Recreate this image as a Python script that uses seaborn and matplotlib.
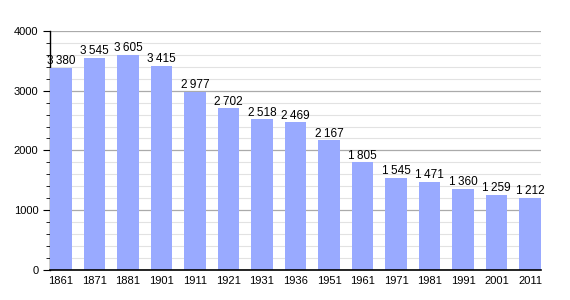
import matplotlib
matplotlib.use("Agg")
import matplotlib.pyplot as plt
import seaborn as sns
import pandas as pd
from matplotlib.ticker import MultipleLocator

# data
years = ["1861", "1871", "1881", "1901", "1911", "1921", "1931", "1936",
         "1951", "1961", "1971", "1981", "1991", "2001", "2011"]
population = [3380, 3545, 3605, 3415, 2977, 2702, 2518, 2469,
              2167, 1805, 1545, 1471, 1360, 1259, 1212]

df = pd.DataFrame({"year": years, "pop": population})

sns.set_style("white")
plt.rcParams["font.family"] = ["Liberation Sans", "DejaVu Sans"]
plt.rcParams["text.color"] = "black"
plt.rcParams["xtick.color"] = "black"
plt.rcParams["ytick.color"] = "black"

fig = plt.figure(figsize=(5.7, 3.0), dpi=100)
ax = fig.add_axes([0.088, 0.1, 0.861, 0.797])

sns.barplot(data=df, x="year", y="pop", color="#99aaff", width=0.64,
            saturation=1, linewidth=0, edgecolor="none", ax=ax, zorder=3)

ax.set_xlim(-0.32, len(years) - 0.68)
ax.set_ylim(0, 4000)
ax.yaxis.set_major_locator(MultipleLocator(1000))
ax.yaxis.set_minor_locator(MultipleLocator(200))
ax.grid(axis="y", which="major", color="#aaaaaa", lw=0.9, zorder=0)
ax.grid(axis="y", which="minor", color="#e2e2e2", lw=0.8, zorder=0)
ax.set_axisbelow(True)

for s in ["top", "right"]:
    ax.spines[s].set_visible(False)
ax.spines["left"].set_color("black")
ax.spines["bottom"].set_color("black")
ax.spines["left"].set_linewidth(1)
ax.spines["bottom"].set_linewidth(1.2)
ax.spines["bottom"].set_zorder(5)

ax.tick_params(axis="y", which="major", length=5, labelsize=8, left=True)
ax.tick_params(axis="y", which="minor", length=3, left=True)
ax.tick_params(axis="x", length=0, labelsize=8, pad=4)
ax.set_xlabel("")
ax.set_ylabel("")

for i, v in enumerate(population):
    label = f"{v:,}".replace(",", "\u2009")
    ax.text(i, v + 10, label, ha="center", va="bottom", fontsize=8.5, zorder=4,
            color="black", family=["Liberation Sans", "DejaVu Sans"])

fig.savefig("out.png", dpi=100)
